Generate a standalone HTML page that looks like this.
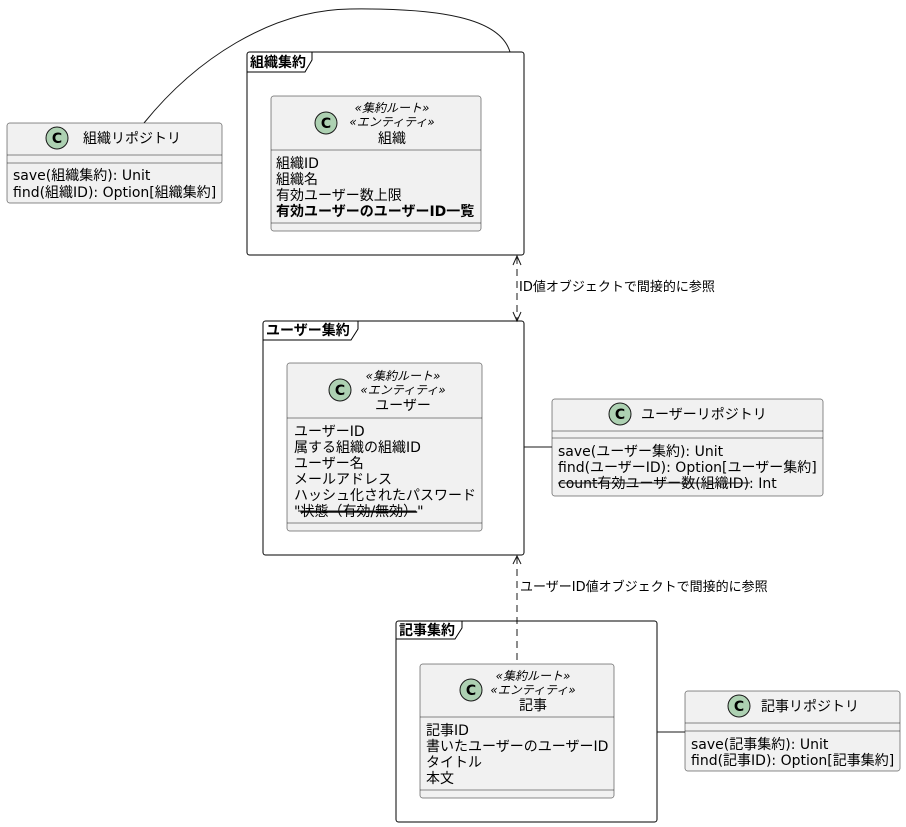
<!DOCTYPE html>
<html><head><meta charset="utf-8"><style>
html,body{margin:0;padding:0;background:#fff;}
svg{display:block;}
text{font-family:"DejaVu Sans","Noto Sans CJK JP",sans-serif;fill:#000;}
.t14{font-size:14px;}
.st{font-size:12px;font-style:italic;}
.b{font-weight:bold;}
.lbl{font-size:13px;}
.box{fill:#F1F1F1;stroke:#181818;stroke-width:0.5;}
.div{stroke:#181818;stroke-width:0.5;}
.frame{fill:none;stroke:#000;stroke-width:1;}
.ci{fill:#ADD1B2;stroke:#181818;stroke-width:1;}
.cc{font-size:14px;font-weight:bold;text-anchor:middle;}
.mid{text-anchor:middle;}
.ln{stroke:#181818;stroke-width:1;fill:none;}
.dash{stroke:#181818;stroke-width:1;fill:none;stroke-dasharray:7,5;}
</style></head><body>
<svg width="906" height="827" viewBox="0 0 906 827" xmlns="http://www.w3.org/2000/svg">
<!-- curve org repo to org frame -->
<path class="ln" d="M144,123 C195,60 270,10 350,9 C440,8 500,18 510,52"/>

<!-- 組織リポジトリ -->
<rect class="box" x="7" y="123" width="215" height="80" rx="2.5"/>
<line class="div" x1="7" y1="155" x2="222" y2="155"/>
<line class="div" x1="7" y1="163" x2="222" y2="163"/>
<circle class="ci" cx="57" cy="138" r="11"/>
<text class="cc" x="57" y="143">C</text>
<text class="t14" x="83" y="143">組織リポジトリ</text>
<text class="t14" x="13" y="180">save(組織集約): Unit</text>
<text class="t14" x="13" y="197">find(組織ID): Option[組織集約]</text>

<!-- 組織集約 frame -->
<rect class="frame" x="247" y="52" width="277" height="203" rx="2.5"/>
<path class="frame" d="M247,72 L305,72 L312,60 L312,52"/>
<text class="t14 b" x="250" y="67">組織集約</text>

<!-- 組織 class -->
<rect class="box" x="271" y="96" width="210" height="135" rx="2.5"/>
<line class="div" x1="271" y1="150" x2="481" y2="150"/>
<line class="div" x1="271" y1="223" x2="481" y2="223"/>
<circle class="ci" cx="326" cy="123" r="11"/>
<text class="cc" x="326" y="128">C</text>
<text class="st mid" x="392" y="112">«集約ルート»</text>
<text class="st mid" x="392" y="126">«エンティティ»</text>
<text class="t14 mid" x="392" y="143">組織</text>
<text class="t14" x="276" y="168">組織ID</text>
<text class="t14" x="276" y="184">組織名</text>
<text class="t14" x="276" y="200">有効ユーザー数上限</text>
<text class="t14 b" x="276" y="216">有効ユーザーのユーザーID一覧</text>

<!-- dashed arrow org <-> user -->
<line class="dash" x1="517" y1="257" x2="517" y2="320"/>
<polyline class="ln" points="513,265 517,256 521,265"/>
<polyline class="ln" points="513,312 517,321 521,312"/>
<text class="lbl" x="519" y="291">ID値オブジェクトで間接的に参照</text>

<!-- ユーザー集約 frame -->
<rect class="frame" x="263" y="321" width="261" height="234" rx="2.5"/>
<path class="frame" d="M263,340 L351,340 L358,329 L358,321"/>
<text class="t14 b" x="266" y="335">ユーザー集約</text>

<!-- ユーザー class -->
<rect class="box" x="287" y="363" width="195" height="168" rx="2.5"/>
<line class="div" x1="287" y1="418" x2="482" y2="418"/>
<line class="div" x1="287" y1="523" x2="482" y2="523"/>
<circle class="ci" cx="340" cy="390" r="11"/>
<text class="cc" x="340" y="395">C</text>
<text class="st mid" x="403" y="380">«集約ルート»</text>
<text class="st mid" x="403" y="394">«エンティティ»</text>
<text class="t14 mid" x="403" y="410">ユーザー</text>
<text class="t14" x="294" y="436">ユーザーID</text>
<text class="t14" x="294" y="452">属する組織の組織ID</text>
<text class="t14" x="294" y="468">ユーザー名</text>
<text class="t14" x="294" y="484">メールアドレス</text>
<text class="t14" x="294" y="500">ハッシュ化されたパスワード</text>
<text class="t14" x="294" y="516">"<tspan text-decoration="line-through">状態（有効/無効）</tspan>"</text>
<line class="ln" x1="298" y1="511" x2="416" y2="511"/>

<!-- connector user frame - repo -->
<line class="ln" x1="524" y1="447" x2="552" y2="447"/>

<!-- ユーザーリポジトリ -->
<rect class="box" x="552" y="399" width="271" height="97" rx="2.5"/>
<line class="div" x1="552" y1="431" x2="823" y2="431"/>
<line class="div" x1="552" y1="438" x2="823" y2="438"/>
<circle class="ci" cx="620" cy="414" r="11"/>
<text class="cc" x="620" y="419">C</text>
<text class="t14" x="641" y="419">ユーザーリポジトリ</text>
<text class="t14" x="558" y="456">save(ユーザー集約): Unit</text>
<text class="t14" x="558" y="472">find(ユーザーID): Option[ユーザー集約]</text>
<text class="t14" x="558" y="488">count有効ユーザー数(組織ID): Int</text>
<line class="ln" x1="558" y1="483" x2="750" y2="483"/>

<!-- dashed arrow article -> user -->
<line class="dash" x1="517" y1="557" x2="517" y2="664"/>
<polyline class="ln" points="513,564 517,556 521,564"/>
<text class="lbl" x="520" y="591">ユーザーID値オブジェクトで間接的に参照</text>

<!-- 記事集約 frame -->
<rect class="frame" x="396" y="621" width="261" height="201" rx="2.5"/>
<path class="frame" d="M396,639 L455,639 L462,628 L462,621"/>
<text class="t14 b" x="399" y="635">記事集約</text>

<!-- 記事 class -->
<rect class="box" x="420" y="664" width="194" height="134" rx="2.5"/>
<line class="div" x1="420" y1="717" x2="614" y2="717"/>
<line class="div" x1="420" y1="790" x2="614" y2="790"/>
<circle class="ci" cx="471" cy="690" r="11"/>
<text class="cc" x="471" y="695">C</text>
<text class="st mid" x="533" y="680">«集約ルート»</text>
<text class="st mid" x="533" y="694">«エンティティ»</text>
<text class="t14 mid" x="533" y="710">記事</text>
<text class="t14" x="426" y="735">記事ID</text>
<text class="t14" x="426" y="751">書いたユーザーのユーザーID</text>
<text class="t14" x="426" y="767">タイトル</text>
<text class="t14" x="426" y="783">本文</text>

<!-- connector article frame - repo -->
<line class="ln" x1="657" y1="732" x2="685" y2="732"/>

<!-- 記事リポジトリ -->
<rect class="box" x="685" y="691" width="215" height="80" rx="2.5"/>
<line class="div" x1="685" y1="723" x2="900" y2="723"/>
<line class="div" x1="685" y1="731" x2="900" y2="731"/>
<circle class="ci" cx="739" cy="706" r="11"/>
<text class="cc" x="739" y="711">C</text>
<text class="t14" x="761" y="711">記事リポジトリ</text>
<text class="t14" x="691" y="749">save(記事集約): Unit</text>
<text class="t14" x="691" y="765">find(記事ID): Option[記事集約]</text>
</svg>
</body></html>
